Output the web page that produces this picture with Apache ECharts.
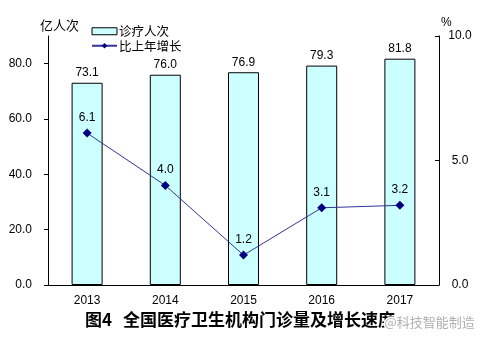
<!DOCTYPE html>
<html>
<head>
<meta charset="utf-8">
<script src="https://cdn.jsdelivr.net/npm/echarts@6/dist/echarts.min.js"></script>
<style>
  html, body { margin: 0; padding: 0; background: #fff; }
  #chart { width: 481px; height: 340px; }
</style>
</head>
<body>
<div id="chart"></div>
<script>
// Outpatient visits (100 million) and year-on-year growth (%)
const years = ['2013', '2014', '2015', '2016', '2017'];
const visits = [73.1, 76.0, 76.9, 79.3, 81.8];
const growth = [6.1, 4.0, 1.2, 3.1, 3.2];
const leftTicks = [0, 20, 40, 60, 80];
const rightTicks = [0, 5, 10];

const numFont = '"Liberation Sans", Arial, sans-serif';
const cjkFont = '"Noto Sans CJK SC", sans-serif';

const chart = echarts.init(document.getElementById('chart'), null, { renderer: 'canvas' });

chart.setOption({
  animation: false,
  backgroundColor: '#ffffff',
  grid: { left: 48, right: 42, top: 36, bottom: 55, containLabel: false },
  legend: {
    orient: 'vertical',
    left: 86,
    top: 20,
    itemWidth: 25,
    itemHeight: 7,
    itemGap: 2,
    textStyle: { fontFamily: cjkFont, fontSize: 12.5, color: '#000', padding: [0, 0, 0, -3] },
    data: [
      { name: '诊疗人次', icon: 'rect', itemStyle: { color: '#ccffff', borderColor: '#000', borderWidth: 1 } },
      { name: '比上年增长' }
    ]
  },
  xAxis: {
    type: 'category',
    data: years,
    boundaryGap: true,
    axisLine: { lineStyle: { color: '#000', width: 1 } },
    axisTick: { inside: true, length: 5, lineStyle: { color: '#000' } },
    axisLabel: { color: '#000', fontFamily: numFont, fontSize: 12, margin: 10 }
  },
  yAxis: [
    {
      type: 'value',
      min: 0,
      max: 90,
      interval: 10,
      splitLine: { show: false },
      axisLine: { show: true, lineStyle: { color: '#000', width: 1 } },
      axisTick: { show: true, length: 4, customValues: leftTicks, lineStyle: { color: '#000' } },
      axisLabel: {
        customValues: leftTicks,
        color: '#000', fontFamily: numFont, fontSize: 12, margin: 16,
        formatter: v => v.toFixed(1)
      }
    },
    {
      type: 'value',
      min: 0,
      max: 10,
      interval: 5,
      position: 'right',
      splitLine: { show: false },
      axisLine: { show: true, lineStyle: { color: '#000', width: 1 } },
      axisTick: { show: true, inside: true, length: 4, customValues: rightTicks, lineStyle: { color: '#000' } },
      axisLabel: {
        customValues: rightTicks,
        color: '#000', fontFamily: numFont, fontSize: 12, margin: 21, align: 'center',
        formatter: v => v.toFixed(1)
      }
    }
  ],
  series: [
    {
      name: '诊疗人次',
      type: 'bar',
      yAxisIndex: 0,
      data: visits,
      barWidth: 31,
      itemStyle: { color: '#ccffff', borderColor: '#000', borderWidth: 1 },
      label: {
        show: true, position: 'top', distance: 4,
        color: '#000', fontFamily: numFont, fontSize: 12,
        formatter: p => p.value.toFixed(1)
      },
      z: 2
    },
    {
      name: '比上年增长',
      type: 'line',
      yAxisIndex: 1,
      data: growth,
      symbol: 'diamond',
      symbolSize: 9,
      lineStyle: { color: '#333399', width: 1 },
      itemStyle: { color: '#000080' },
      label: {
        show: true, position: 'top', distance: 5,
        color: '#000', fontFamily: numFont, fontSize: 12,
        formatter: p => p.value.toFixed(1)
      },
      z: 3
    }
  ],
  graphic: [
    {
      type: 'text', left: 40, top: 19,
      style: { text: '亿人次', fontFamily: cjkFont, fontSize: 13, fill: '#000' }
    },
    {
      type: 'text', left: 441, top: 17,
      style: { text: '%', fontFamily: numFont, fontSize: 12, fill: '#000' }
    },
    {
      type: 'text', left: 85, top: 311,
      style: {
        text: '图4',
        fontFamily: cjkFont, fontSize: 17, fontWeight: 'bold', fill: '#000'
      }
    },
    {
      type: 'text', left: 123, top: 311,
      style: {
        text: '全国医疗卫生机构门诊量及增长速度',
        fontFamily: cjkFont, fontSize: 17, fontWeight: 'bold', fill: '#000'
      }
    },
    {
      type: 'text', left: 383, top: 314,
      style: {
        text: '@科技智能制造',
        fontFamily: cjkFont, fontSize: 13, fill: '#b0b0b0',
        stroke: '#ffffff', lineWidth: 3
      },
      z: 10
    }
  ]
});
</script>
</body>
</html>
